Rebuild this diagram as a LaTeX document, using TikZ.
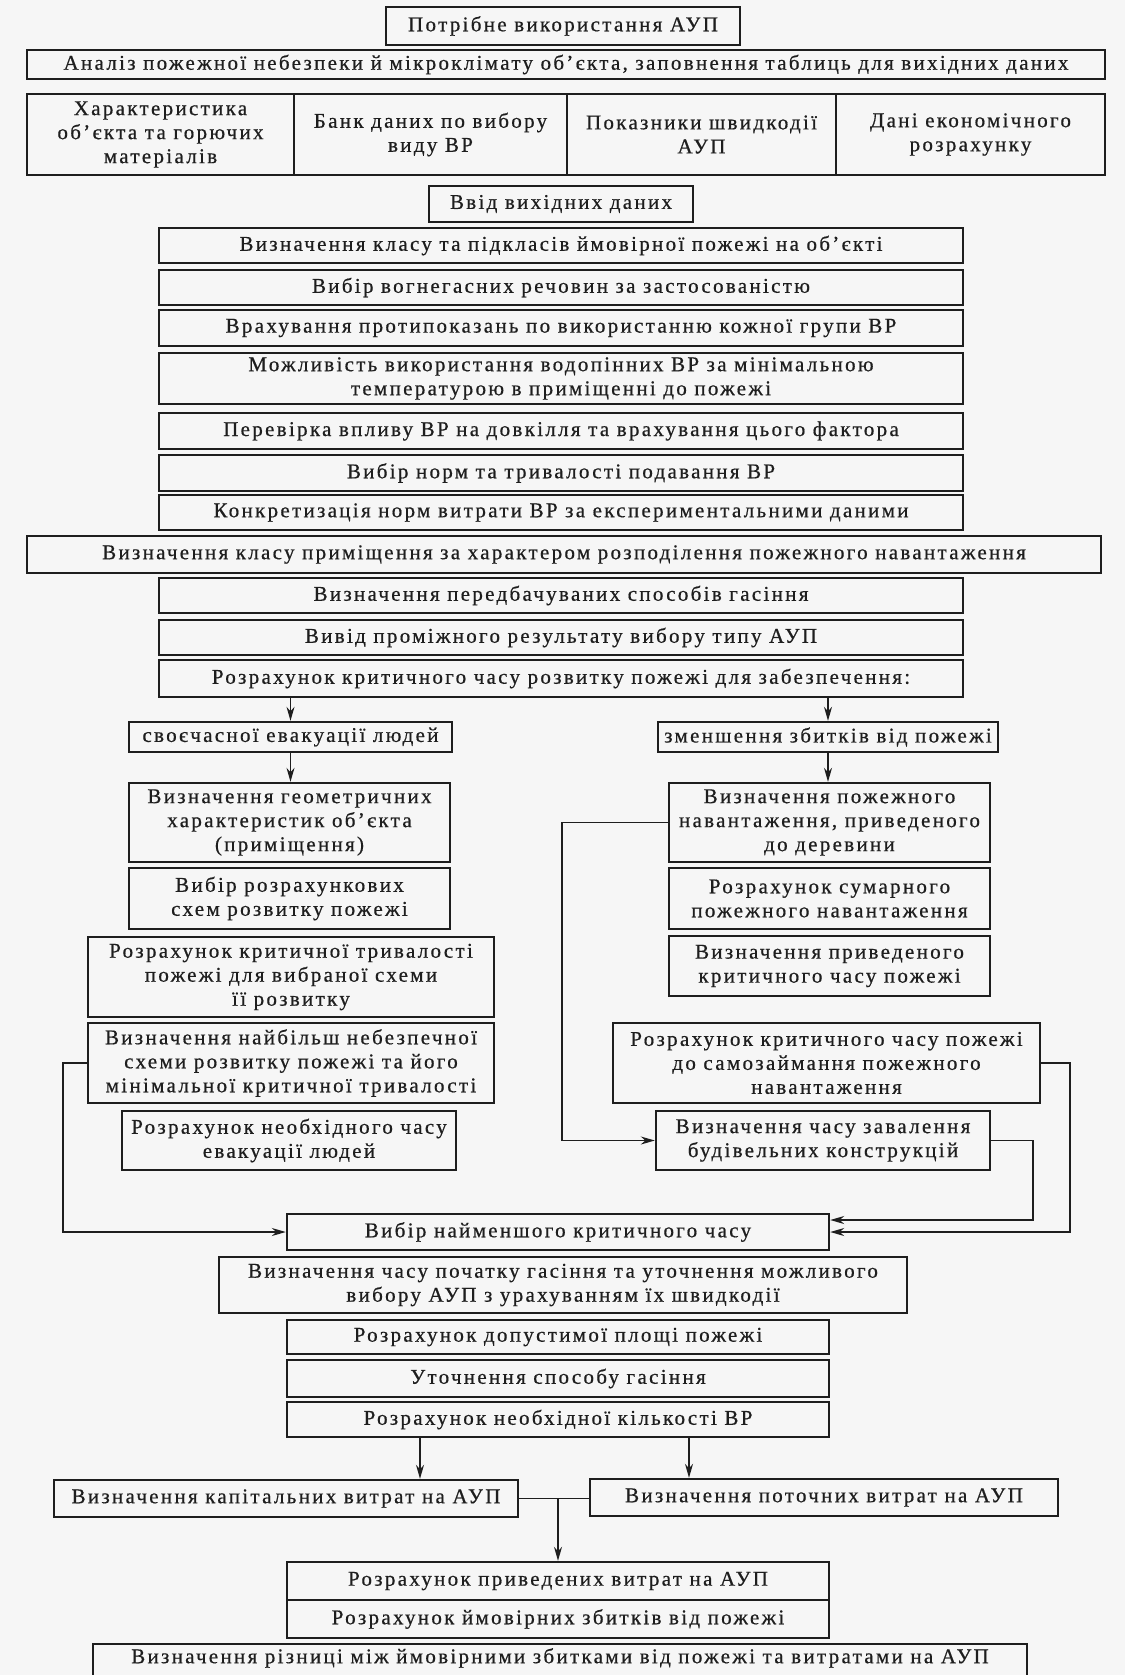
\documentclass[tikz,border=0pt]{standalone}
\usepackage{fontspec}
\setmainfont{Liberation Serif}[LetterSpace=11,FakeBold=0.6]
\usetikzlibrary{arrows.meta}
\definecolor{bg}{HTML}{F6F6F6}
\definecolor{ink}{HTML}{1E1E1E}
\tikzset{
 box/.style={draw=ink, line width=1.2pt, inner sep=0pt, align=center, text=ink,
   font=\fontsize{10.5pt}{12pt}\selectfont},
 conn/.style={draw=ink, line width=0.7pt},
 arr/.style={conn, -{Stealth[length=7pt,width=4pt]}},
}
\newcommand\bx[6]{\node[box, minimum width={(#4-#2)*0.5pt}, minimum height={(#5-#3)*0.5pt}] (#1) at ({(#2+#4)/2},{(#3+#5)/2}) {#6};}
\begin{document}
\begin{tikzpicture}[x=0.5pt,y=-0.5pt]
\fill[bg] (0,0) rectangle (1125,1675);
\useasboundingbox (0,0) rectangle (1125,1675);
\bx{n1}{386}{7}{740}{45}{Потрібне використання АУП}
\bx{n2}{27}{50}{1105}{79}{Аналіз пожежної небезпеки й мікроклімату об’єкта, заповнення таблиць для вихідних даних}
\bx{n3a}{27}{94}{294}{175}{Характеристика\\об’єкта та горючих\\матеріалів}
\bx{n3b}{294}{94}{567}{175}{Банк даних по вибору\\виду ВР}
\bx{n3c}{567}{94}{836}{175}{Показники швидкодії\\АУП}
\bx{n3d}{836}{94}{1105}{175}{Дані економічного\\розрахунку}
\bx{n4}{429}{186}{693}{222}{Ввід вихідних даних}
\bx{n5}{159}{228}{963}{263}{Визначення класу та підкласів ймовірної пожежі на об’єкті}
\bx{n6}{159}{270}{963}{305}{Вибір вогнегасних речовин за застосованістю}
\bx{n7}{159}{310}{963}{346}{Врахування протипоказань по використанню кожної групи ВР}
\bx{n8}{159}{353}{963}{404}{Можливість використання водопінних ВР за мінімальною\\температурою в приміщенні до пожежі}
\bx{n9}{159}{413}{963}{449}{Перевірка впливу ВР на довкілля та врахування цього фактора}
\bx{n10}{159}{455}{963}{491}{Вибір норм та тривалості подавання ВР}
\bx{n11}{159}{495}{963}{530}{Конкретизація норм витрати ВР за експериментальними даними}
\bx{n12}{27}{536}{1101}{573}{Визначення класу приміщення за характером розподілення пожежного навантаження}
\bx{n13}{159}{578}{963}{613}{Визначення передбачуваних способів гасіння}
\bx{n14}{159}{620}{963}{655}{Вивід проміжного результату вибору типу АУП}
\bx{n15}{159}{660}{963}{697}{Розрахунок критичного часу розвитку пожежі для забезпечення:}
\bx{n16}{129}{722}{452}{752}{своєчасної евакуації людей}
\bx{n17}{658}{722}{998}{752}{зменшення збитків від пожежі}
\bx{n18}{129}{783}{450}{862}{Визначення геометричних\\характеристик об’єкта\\(приміщення)}
\bx{n19}{669}{783}{990}{862}{Визначення пожежного\\навантаження, приведеного\\до деревини}
\bx{n20}{129}{868}{450}{929}{Вибір розрахункових\\схем розвитку пожежі}
\bx{n21}{669}{868}{990}{929}{Розрахунок сумарного\\пожежного навантаження}
\bx{n22}{88}{937}{494}{1017}{Розрахунок критичної тривалості\\пожежі для вибраної схеми\\її розвитку}
\bx{n23}{669}{936}{990}{996}{Визначення приведеного\\критичного часу пожежі}
\bx{n24}{88}{1023}{494}{1103}{Визначення найбільш небезпечної\\схеми розвитку пожежі та його\\мінімальної критичної тривалості}
\bx{n25}{613}{1023}{1040}{1103}{Розрахунок критичного часу пожежі\\до самозаймання пожежного\\навантаження}
\bx{n26}{122}{1111}{456}{1170}{Розрахунок необхідного часу\\евакуації людей}
\bx{n27}{656}{1111}{990}{1170}{Визначення часу завалення\\будівельних конструкцій}
\bx{n28}{287}{1214}{829}{1250}{Вибір найменшого критичного часу}
\bx{n29}{219}{1257}{907}{1313}{Визначення часу початку гасіння та уточнення можливого\\вибору АУП з урахуванням їх швидкодії}
\bx{n30}{287}{1320}{829}{1354}{Розрахунок допустимої площі пожежі}
\bx{n31}{287}{1360}{829}{1397}{Уточнення способу гасіння}
\bx{n32}{287}{1402}{829}{1437}{Розрахунок необхідної кількості ВР}
\bx{n33}{54}{1480}{518}{1517}{Визначення капітальних витрат на АУП}
\bx{n34}{590}{1479}{1058}{1516}{Визначення поточних витрат на АУП}
\bx{n35}{287}{1562}{829}{1600}{Розрахунок приведених витрат на АУП}
\bx{n36}{287}{1600}{829}{1638}{Розрахунок ймовірних збитків від пожежі}
\node[box, anchor=north, minimum width={(1027-93)*0.5pt}, text height=9.5pt, text depth=20pt] (n37) at (560,1643) {Визначення різниці між ймовірними збитками від пожежі та витратами на АУП};
\coordinate (k1) at (420,0);
\coordinate (k2) at (689,0);
\coordinate (j) at (558,0);
\coordinate (c1) at (63,0);
\coordinate (c2) at (562,0);
\coordinate (c3) at (1033,0);
\coordinate (c4) at (1070,0);
\draw[arr] (n15.south -| n16.north) -- (n16.north);
\draw[arr] (n15.south -| n17.north) -- (n17.north);
\draw[arr] (n16.south) -- (n16.south |- n18.north);
\draw[arr] (n17.south) -- (n17.south |- n19.north);
\draw[arr] (n24.west) -- (n24.west -| c1) |- (n28.west);
\draw[arr] (n19.west) -- (n19.west -| c2) |- (n27.west);
\draw[arr] (n27.east) -- (n27.east -| c3) |- ([yshift=6pt]n28.east);
\draw[arr] (n25.east) -- (n25.east -| c4) |- (n28.east);
\draw[arr] (n32.south -| k1) -- (n33.north -| k1);
\draw[arr] (n32.south -| k2) -- (n34.north -| k2);
\draw[conn] (n33.east) -- (n33.east -| n34.west);
\draw[arr] (n33.east -| j) -- (n35.north -| j);
\end{tikzpicture}
\end{document}
